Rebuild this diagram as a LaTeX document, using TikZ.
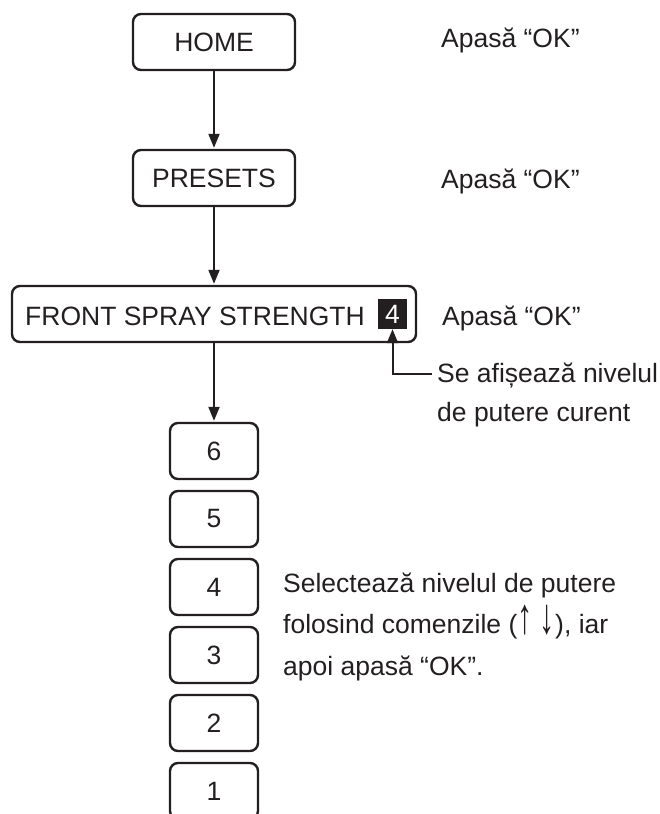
\documentclass[tikz,border=0pt]{standalone}
\usepackage{fontspec}
\setmainfont{Liberation Sans}
\usetikzlibrary{arrows.meta}
\definecolor{ink}{HTML}{231F20}
\newcommand{\tallarrow}[1]{\scalebox{1.15}[1.9]{#1}}
\tikzset{
  flowbox/.style={draw=ink, line width=2.4pt, rounded corners=8pt, inner sep=0pt,
    minimum height=56pt, text=ink, font=\fontsize{26.5}{30}\selectfont},
  numbox/.style={flowbox, minimum width=88pt},
  lbl/.style={anchor=base west, inner sep=0pt, text=ink, font=\fontsize{26.5}{30}\selectfont},
  flowarrow/.style={draw=ink, line width=2pt, -{Triangle[length=14pt,width=11pt]}, shorten >=1pt},
}
\begin{document}
\begin{tikzpicture}[x=1pt,y=-1pt]
\useasboundingbox (0,0) rectangle (659,814);
\begin{scope}
\clip (0,0) rectangle (659,814);
% main boxes
\node[flowbox, minimum width=162pt] (home) at (214,42) {HOME};
\node[flowbox, minimum width=162pt] (presets) at (214,178) {PRESETS};
\node[flowbox, minimum width=404pt] (front) at (214,314) {};
\node[lbl] (fronttxt) at (25,325) {FRONT SPRAY STRENGTH};
\node[fill=ink, text=white, inner sep=0pt, minimum width=29pt, minimum height=30pt,
      font=\fontsize{26.5}{30}\selectfont] (sq) at (392.5,314) {4};
% level boxes
\node[numbox] (b6) at (214,451) {6};
\node[numbox] (b5) at (214,519) {5};
\node[numbox] (b4) at (214,587) {4};
\node[numbox] (b3) at (214,655) {3};
\node[numbox] (b2) at (214,723) {2};
\node[numbox] (b1) at (214,791) {1};
% arrows
\draw[flowarrow] (home.south) -- (presets.north);
\draw[flowarrow] (presets.south) -- (front.north);
\draw[flowarrow] (front.south) -- (b6.north);
\coordinate (callend) at (432,374);
\draw[flowarrow, shorten >=0pt] (callend) -| (sq.south);
% side texts
\node[lbl] (ok1) at (441,47) {Apasă “OK”};
\node[lbl] (ok2) at (441,188) {Apasă “OK”};
\node[lbl] (ok3) at (442,325) {Apasă “OK”};
\node[lbl] (se1) at (437,382) {Se afișează nivelul};
\node[lbl] (se2) at (437,421) {de putere curent};
\node[lbl] (sel1) at (283,592) {Selectează nivelul de putere};
\node[lbl] (sel2) at (283,633) {folosind comenzile (\tallarrow{↑} \tallarrow{↓}), iar};
\node[lbl] (sel3) at (283,675) {apoi apasă “OK”.};
\end{scope}
\end{tikzpicture}
\end{document}
